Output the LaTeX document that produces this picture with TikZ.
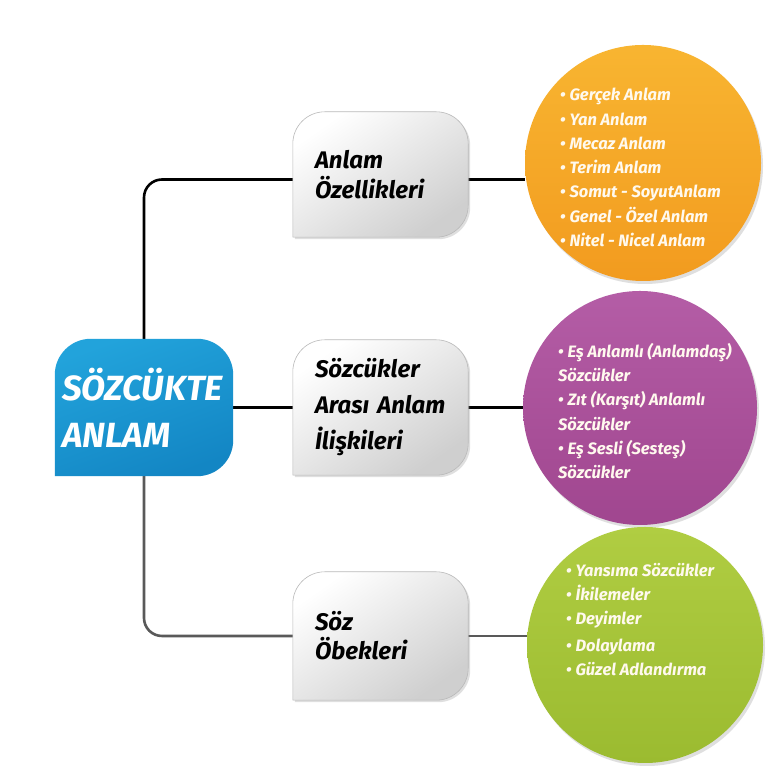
\documentclass[tikz,border=0pt]{standalone}
\usepackage{fontspec}
\setmainfont{Fira Sans}
\usetikzlibrary{shadows,backgrounds}
\definecolor{blueA}{HTML}{22A3DB}
\definecolor{blueB}{HTML}{1386C4}
\definecolor{orA}{HTML}{F8B531}
\definecolor{orB}{HTML}{F29B1F}
\definecolor{puA}{HTML}{B45DA6}
\definecolor{puB}{HTML}{A0468F}
\definecolor{grA}{HTML}{B0CD42}
\definecolor{grB}{HTML}{9BBB30}
\definecolor{txtc}{HTML}{FFF9EE}
\tikzset{
  tcshape/.style 2 args={insert path={(#1.south west) -- ([yshift=-#2]#1.north west)
     arc[start angle=180,end angle=90,radius=#2] -- ([xshift=-#2]#1.north east)
     arc[start angle=90,end angle=0,radius=#2] -- ([yshift=#2]#1.south east)
     arc[start angle=0,end angle=-90,radius=#2] -- cycle}},
  gtitle/.style={align=left, inner sep=0pt, text=black},
  btitle/.style={font=\fontsize{35}{47}\selectfont\bfseries\itshape, align=left, inner sep=0pt, text=white},
  gfill/.style={top color=white, bottom color=gray!38, shading angle=35, draw=gray!55, line width=0.6pt,
     drop shadow={opacity=0.25, shadow xshift=2pt, shadow yshift=-2pt}},
  bfill/.style={top color=blueA, bottom color=blueB, shading angle=20},
  conn/.style={line width=2.6pt, draw=black},
  connlo/.style={line width=2.6pt, draw=gray!70!black},
  ball/.style={circle, minimum size=#1, inner sep=0pt,
     drop shadow={opacity=0.25, shadow xshift=2pt, shadow yshift=-3pt}},
  ctext/.style={font=\fontsize{16.5}{24.3}\selectfont\bfseries\itshape, align=left, inner sep=0pt, text=txtc, anchor=north west}
}
\begin{document}
\begin{tikzpicture}[x=1pt,y=1pt]
\useasboundingbox (0,0) rectangle (777,770);

% title boxes (text)
\node[btitle, minimum width=178pt, minimum height=137pt, text width=164pt] (blue) at (144,362.5) {SÖZCÜKTE\\ANLAM};
\node[gtitle, font=\fontsize{24}{30}\selectfont\bfseries\itshape, minimum width=175pt, minimum height=125pt, text width=131pt] (b1) at (380.5,595.5) {Anlam\\Özellikleri};
\node[gtitle, font=\fontsize{24}{36}\selectfont\bfseries\itshape, minimum width=175pt, minimum height=135pt, text width=131pt] (b2) at (380.5,362.5) {Sözcükler\\Arası Anlam\\İlişkileri};
\node[gtitle, font=\fontsize{24}{29}\selectfont\bfseries\itshape, minimum width=175pt, minimum height=128pt, text width=131pt] (b3) at (380.5,134) {Söz\\Öbekleri};

% circles
\node[ball=236pt, top color=orA, bottom color=orB] (orange) at (643,607) {};
\node[ball=234pt, top color=puA, bottom color=puB] (purple) at (640,362) {};
\node[ball=236pt, top color=grA, bottom color=grB] (green) at (645,125) {};

\node[ctext] (ot) at (560,682) {• Gerçek Anlam\\• Yan Anlam\\• Mecaz Anlam\\• Terim Anlam\\• Somut - SoyutAnlam\\• Genel - Özel Anlam\\• Nitel - Nicel Anlam};
\node[ctext] (pt) at (558,427) {• Eş Anlamlı (Anlamdaş)\\Sözcükler\\• Zıt (Karşıt) Anlamlı\\Sözcükler\\• Eş Sesli (Sesteş)\\Sözcükler};
\node[ctext] (gt) at (566,207) {• Yansıma Sözcükler\\• İkilemeler\\• Deyimler\\[2pt]• Dolaylama\\• Güzel Adlandırma};

\begin{scope}[on background layer]
  \fill[white] (0,0) rectangle (777,770);
  \draw[conn, rounded corners=18pt] (blue.north) |- ([yshift=-5pt]b1.west);
  \draw[conn] (blue.east) -- (b2.west);
  \draw[connlo, rounded corners=18pt] (blue.south) |- (b3.west);
  \draw[conn] ([yshift=-5pt]b1.east) -- ([yshift=-5pt]b1.east -| orange.west);
  \draw[conn] (b2.east) -- (b2.east -| purple.west);
  \draw[connlo] (b3.east) -- (b3.east -| green.west);
  \path[bfill, tcshape={blue}{36pt}];
  \path[gfill, tcshape={b1}{32pt}];
  \path[gfill, tcshape={b2}{32pt}];
  \path[gfill, tcshape={b3}{32pt}];
\end{scope}
\end{tikzpicture}
\end{document}
